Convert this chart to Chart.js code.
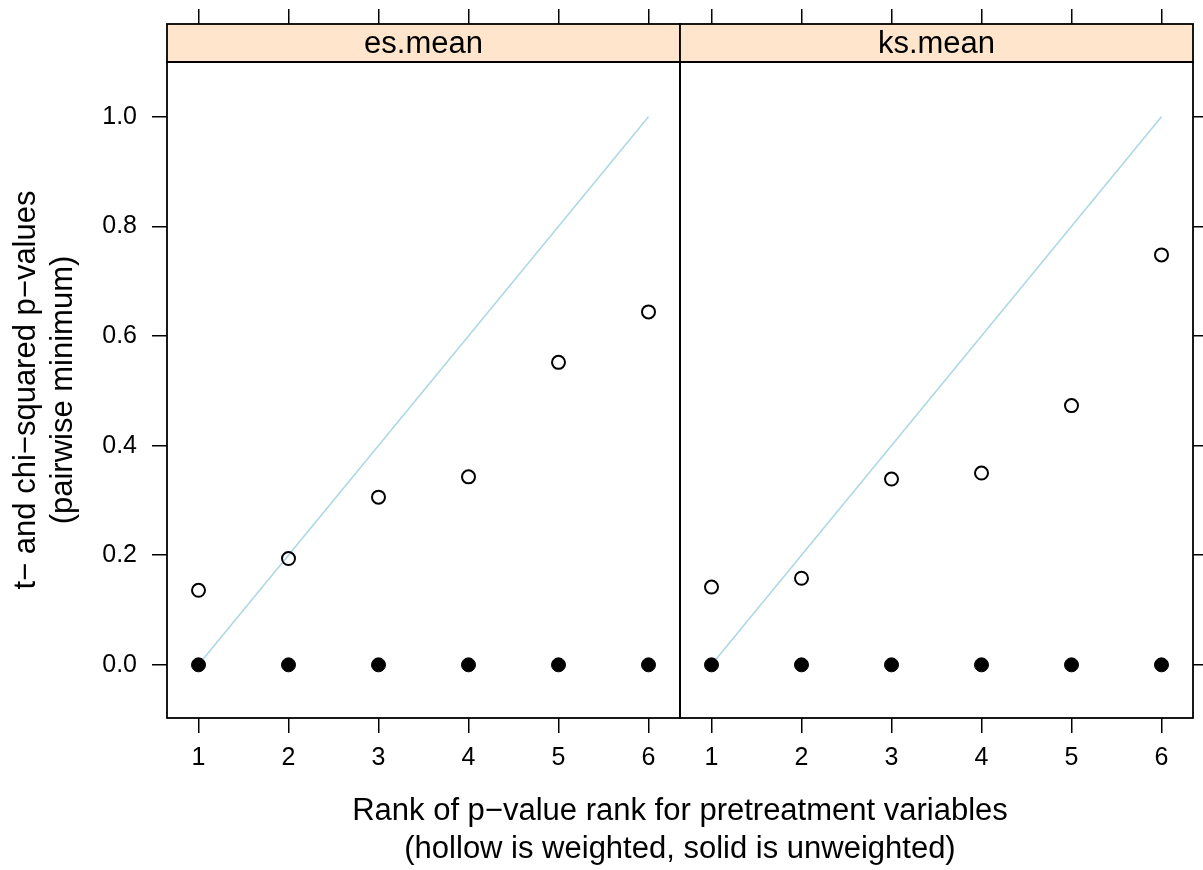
<!DOCTYPE html>
<html>
<head>
<meta charset="utf-8">
<script src="https://cdn.jsdelivr.net/npm/chart.js@4.4.0/dist/chart.umd.min.js"></script>
<style>
  body { margin: 0; background: #fff; }
  #wrap { position: relative; width: 1203px; height: 870px; overflow: hidden; background: #fff;
          font-family: "Liberation Sans", Arial, sans-serif; color: #000; }
  canvas { position: absolute; left: 0; top: 0; }
  #xtitle { position: absolute; left: 180px; top: 791px; width: 1000px; text-align: center;
            font-size: 31px; line-height: 38px; }
  #ytitle { position: absolute; left: -307px; top: 353px; width: 700px; height: 74px; text-align: center;
            font-size: 31px; line-height: 37px; transform: rotate(-90deg); transform-origin: 50% 50%; }
</style>
</head>
<body>
<div id="wrap">
  <canvas id="left" width="1203" height="870"></canvas>
  <canvas id="right" width="1203" height="870"></canvas>
  <div id="ytitle">t− and chi−squared p−values<br>(pairwise minimum)</div>
  <div id="xtitle">Rank of p−value rank for pretreatment variables<br>(hollow is weighted, solid is unweighted)</div>
</div>
<script>
// data
const ranks = [1, 2, 3, 4, 5, 6];
const panelNames = ["es.mean", "ks.mean"];
const esWeighted = [0.136, 0.194, 0.306, 0.343, 0.552, 0.644];
const esUnweighted = [0, 0, 0, 0, 0, 0];
const ksWeighted = [0.142, 0.158, 0.339, 0.350, 0.473, 0.748];
const ksUnweighted = [0, 0, 0, 0, 0, 0];
const refX = [1, 6];
const refY = [0, 1];
const xTicks = [1, 2, 3, 4, 5, 6];
const yTicks = [0, 0.2, 0.4, 0.6, 0.8, 1.0];
const yTickLabels = ["0.0", "0.2", "0.4", "0.6", "0.8", "1.0"];

const FONT = "'Liberation Sans', Arial, sans-serif";

// strip on top + panel border
const panelFrame = {
    id: "panelFrame",
    afterDraw(chart, args, opts) {
        const ctx = chart.ctx;
        const a = chart.chartArea;
        const stripH = 38;
        ctx.save();
        ctx.fillStyle = "#ffe5cc";
        ctx.fillRect(a.left, a.top - stripH, a.right - a.left, stripH);
        ctx.strokeStyle = "#000";
        ctx.lineWidth = 1.8;
        ctx.strokeRect(a.left, a.top - stripH, a.right - a.left, stripH);
        ctx.strokeRect(a.left, a.top, a.right - a.left, a.bottom - a.top);
        ctx.fillStyle = "#000";
        ctx.font = "31px " + FONT;
        ctx.textAlign = "center";
        ctx.textBaseline = "middle";
        ctx.fillText(opts.label, (a.left + a.right) / 2, a.top - stripH / 2 + 1);
        ctx.restore();
    }
};

function toPoints(xs, ys) {
    return xs.map((x, i) => ({ x: x, y: ys[i] }));
}

function makePanel(id, name, weighted, unweighted, isLeft) {
    const tickGrid = (len) => ({
        display: true, drawOnChartArea: false, drawTicks: true,
        tickLength: len, color: "#000", lineWidth: 1.5
    });
    const setX = (s) => { s.ticks = xTicks.map(v => ({ value: v })); };
    const setY = (s) => { s.ticks = yTicks.map(v => ({ value: v })); };

    new Chart(document.getElementById(id), {
        type: "scatter",
        data: {
            datasets: [
                {
                    label: "unweighted",
                    data: toPoints(ranks, unweighted),
                    pointRadius: 7,
                    pointBackgroundColor: "#000",
                    pointBorderColor: "#000",
                    pointBorderWidth: 1,
                    order: 1
                },
                {
                    label: "weighted",
                    data: toPoints(ranks, weighted),
                    pointRadius: 6.5,
                    pointBackgroundColor: "rgba(0,0,0,0)",
                    pointBorderColor: "#000",
                    pointBorderWidth: 2,
                    order: 2
                },
                {
                    label: "reference",
                    data: toPoints(refX, refY),
                    showLine: true,
                    borderColor: "#add8e6",
                    borderWidth: 1.6,
                    pointRadius: 0,
                    order: 5
                }
            ]
        },
        options: {
            responsive: false,
            animation: false,
            events: [],
            layout: {
                padding: isLeft ? { top: 9, left: 0, right: 523, bottom: 0 }
                                : { top: 9, left: 680, right: 0, bottom: 0 }
            },
            plugins: {
                legend: { display: false },
                tooltip: { enabled: false },
                panelFrame: { label: name }
            },
            scales: {
                x: {
                    type: "linear", position: "bottom", min: 0.65, max: 6.35,
                    afterBuildTicks: setX,
                    afterFit: (s) => { s.height = 152; },
                    ticks: { color: "#000", font: { family: FONT, size: 25 }, padding: 10,
                             maxRotation: 0, autoSkip: false, callback: (v) => String(v) },
                    grid: tickGrid(15),
                    border: { display: false }
                },
                xTop: {
                    type: "linear", position: "top", min: 0.65, max: 6.35,
                    afterBuildTicks: setX,
                    afterFit: (s) => { s.height = 53; },
                    ticks: { display: false },
                    grid: tickGrid(53),
                    border: { display: false }
                },
                y: {
                    type: "linear", position: isLeft ? "left" : "right", min: -0.097, max: 1.1,
                    afterBuildTicks: setY,
                    afterFit: (s) => { s.width = isLeft ? 167 : 10; },
                    ticks: { display: isLeft, color: "#000", font: { family: FONT, size: 25 }, padding: 15,
                             callback: (v, i) => yTickLabels[i] },
                    grid: tickGrid(15),
                    border: { display: false }
                }
            }
        },
        plugins: [panelFrame]
    });
}

makePanel("left", panelNames[0], esWeighted, esUnweighted, true);
makePanel("right", panelNames[1], ksWeighted, ksUnweighted, false);
</script>
</body>
</html>
